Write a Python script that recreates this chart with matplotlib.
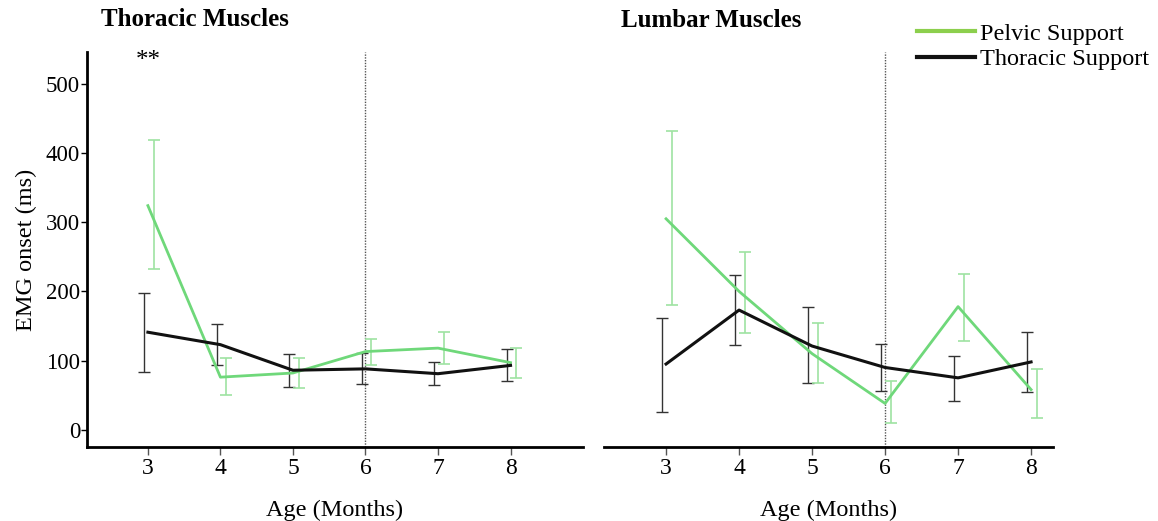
import numpy as np
import matplotlib
matplotlib.use('Agg')
from matplotlib import pyplot as plt
from matplotlib.lines import Line2D

plt.rcParams['font.family'] = ['Liberation Serif', 'DejaVu Serif']

ages = [3, 4, 5, 6, 7, 8]

# Thoracic muscles
thor_thoracic = [141, 123, 86, 88, 81, 93]
thor_thoracic_lo = [84, 94, 62, 66, 64, 71]
thor_thoracic_hi = [197, 153, 109, 111, 98, 117]
thor_pelvic = [324, 76, 82, 113, 118, 97]
thor_pelvic_lo = [233, 50, 61, 94, 95, 75]
thor_pelvic_hi = [419, 103, 103, 131, 141, 118]

# Lumbar muscles
lumb_thoracic = [95, 173, 121, 90, 75, 98]
lumb_thoracic_lo = [26, 123, 67, 56, 42, 55]
lumb_thoracic_hi = [162, 223, 177, 124, 106, 141]
lumb_pelvic = [305, 200, 110, 38, 178, 58]
lumb_pelvic_lo = [180, 140, 67, 10, 128, 17]
lumb_pelvic_hi = [432, 257, 155, 70, 225, 88]

green = '#6fd87a'
green_err = '#9ee3a2'
legend_green = '#8ccf4d'
black = '#111111'


def draw_panel(ax, thor, thor_lo, thor_hi, pel, pel_lo, pel_hi):
    x = np.array(ages, dtype=float)
    ax.axvline(6, color='#555555', linestyle=(0, (1, 1)), linewidth=1.0, zorder=1)
    ax.errorbar(x - 0.05, thor,
                yerr=[np.array(thor) - np.array(thor_lo), np.array(thor_hi) - np.array(thor)],
                fmt='none', ecolor='#333333', elinewidth=1.0, capsize=4, capthick=1.0, zorder=2)
    ax.errorbar(x + 0.08, pel,
                yerr=[np.array(pel) - np.array(pel_lo), np.array(pel_hi) - np.array(pel)],
                fmt='none', ecolor=green_err, elinewidth=1.2, capsize=4, capthick=1.2, zorder=2)
    ax.plot(x, pel, color=green, linewidth=2.0, zorder=3)
    ax.plot(x, thor, color=black, linewidth=2.2, zorder=4)
    ax.set_ylim(-25, 546)
    ax.set_xticks(ages)
    ax.set_xticklabels([str(a) for a in ages], fontsize=17)
    ax.spines['top'].set_visible(False)
    ax.spines['right'].set_visible(False)
    ax.spines['bottom'].set_linewidth(2.0)
    ax.tick_params(axis='x', direction='out', length=6, width=1.0, color='#555555', pad=2)
    ax.set_xlabel('Age (Months)', fontsize=17.5, labelpad=15)


fig = plt.figure(figsize=(11.58, 5.21), dpi=100)
ax1 = fig.add_axes([0.0751, 0.142, 0.4284, 0.758])
ax2 = fig.add_axes([0.5216, 0.142, 0.3877, 0.758])

draw_panel(ax1, thor_thoracic, thor_thoracic_lo, thor_thoracic_hi,
           thor_pelvic, thor_pelvic_lo, thor_pelvic_hi)
ax1.set_xlim(2.16, 9.0)
ax1.set_yticks([0, 100, 200, 300, 400, 500])
ax1.set_yticklabels(['0', '100', '200', '300', '400', '500'], fontsize=16.5)
ax1.spines['left'].set_linewidth(2.0)
ax1.tick_params(axis='y', direction='out', length=4, width=1.0, pad=1)
ax1.set_ylabel('EMG onset (ms)', fontsize=17.5, labelpad=6)
ax1.text(3, 533, '**', ha='center', va='center', fontsize=18)

draw_panel(ax2, lumb_thoracic, lumb_thoracic_lo, lumb_thoracic_hi,
           lumb_pelvic, lumb_pelvic_lo, lumb_pelvic_hi)
ax2.set_xlim(2.15, 8.3)
ax2.spines['left'].set_visible(False)
ax2.set_yticks([])

fig.text(0.087, 0.963, 'Thoracic Muscles', fontsize=18, fontweight='bold', va='center')
fig.text(0.536, 0.96, 'Lumbar Muscles', fontsize=18, fontweight='bold', va='center')

handles = [Line2D([0], [0], color=legend_green, linewidth=3),
           Line2D([0], [0], color=black, linewidth=3)]
fig.legend(handles, ['Pelvic Support', 'Thoracic Support'], loc='upper left',
           bbox_to_anchor=(0.7815, 0.98), frameon=False, fontsize=17.5,
           handlelength=2.4, handletextpad=0.2, labelspacing=0.15, borderpad=0.0)

fig.savefig('out.png', dpi=100)
plt.close(fig)
